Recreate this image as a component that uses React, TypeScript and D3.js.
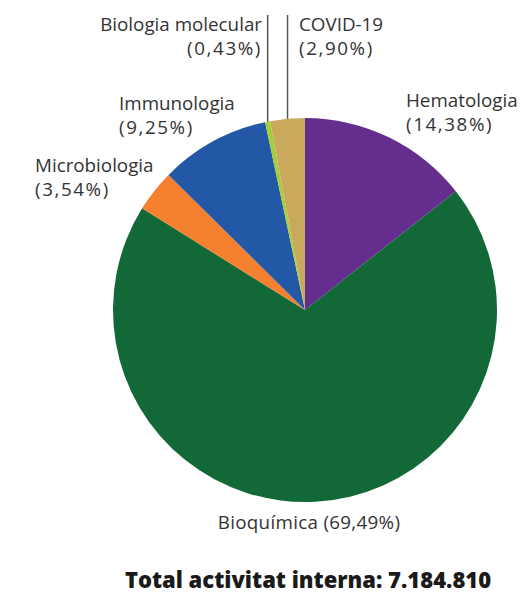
import * as d3 from "d3";

const categories = ["Hematologia", "Bioquímica", "Microbiologia", "Immunologia", "Biologia molecular", "COVID-19"];
const values = [14.38, 69.49, 3.54, 9.25, 0.43, 2.9];
const valueLabels = ["14,38%", "69,49%", "3,54%", "9,25%", "0,43%", "2,90%"];
const colors = ["#652d8e", "#126937", "#f58130", "#2358a6", "#a6ce39", "#c9a95b"];
const totalLabel = "Total activitat interna: 7.184.810";

const W = 524;
const H = 599;
const cx = 305;
const cy = 310;
const R = 192;
const font = "'Open Sans', sans-serif";
const textColor = "#333";

export default function App() {
  const pie = d3.pie<number>().value((d) => d).sort(null);
  const arcs = pie(values);
  const arc = d3.arc<d3.PieArcDatum<number>>().innerRadius(0).outerRadius(R);

  // leader-line anchor for the thin slices at the top
  const edge = (i: number) => {
    const a = (arcs[i].startAngle + arcs[i].endAngle) / 2;
    return [cx + R * Math.sin(a), cy - R * Math.cos(a)];
  };
  const bm = edge(4);
  const cv = edge(5);

  const label = (name: string, val: string, x: number, y: number, anchor: string) => (
    <text x={x} y={y} textAnchor={anchor} fontSize={18.8} fill={textColor} fontFamily={font}>
      <tspan x={x}>{name}</tspan>
      <tspan x={x} dy={23.5} letterSpacing={1.6}>({val})</tspan>
    </text>
  );

  return (
    <svg width={W} height={H} style={{ position: "absolute", left: 0, top: 0 }}>
      <g transform={`translate(${cx},${cy})`}>
        {arcs.map((d, i) => (
          <path key={categories[i]} d={arc(d) || ""} fill={colors[i]} />
        ))}
      </g>
      <line x1={bm[0]} x2={bm[0]} y1={15} y2={bm[1]} stroke="#555" strokeWidth={1.5} />
      <line x1={cv[0]} x2={cv[0]} y1={15} y2={cv[1]} stroke="#555" strokeWidth={1.5} />
      {label(categories[4], valueLabels[4], 262, 31, "end")}
      {label(categories[5], valueLabels[5], 299, 31, "start")}
      {label(categories[3], valueLabels[3], 119, 110, "start")}
      {label(categories[2], valueLabels[2], 35, 172, "start")}
      {label(categories[0], valueLabels[0], 406, 107, "start")}
      <text x={309} y={529} textAnchor="middle" fontSize={18.8} fill={textColor} fontFamily={font} letterSpacing={0.3}>
        {categories[1]} ({valueLabels[1]})
      </text>
      <text x={308} y={588} textAnchor="middle" fontSize={22} fontWeight={800} fill="#1a1a1a" fontFamily={font}>
        {totalLabel}
      </text>
    </svg>
  );
}
